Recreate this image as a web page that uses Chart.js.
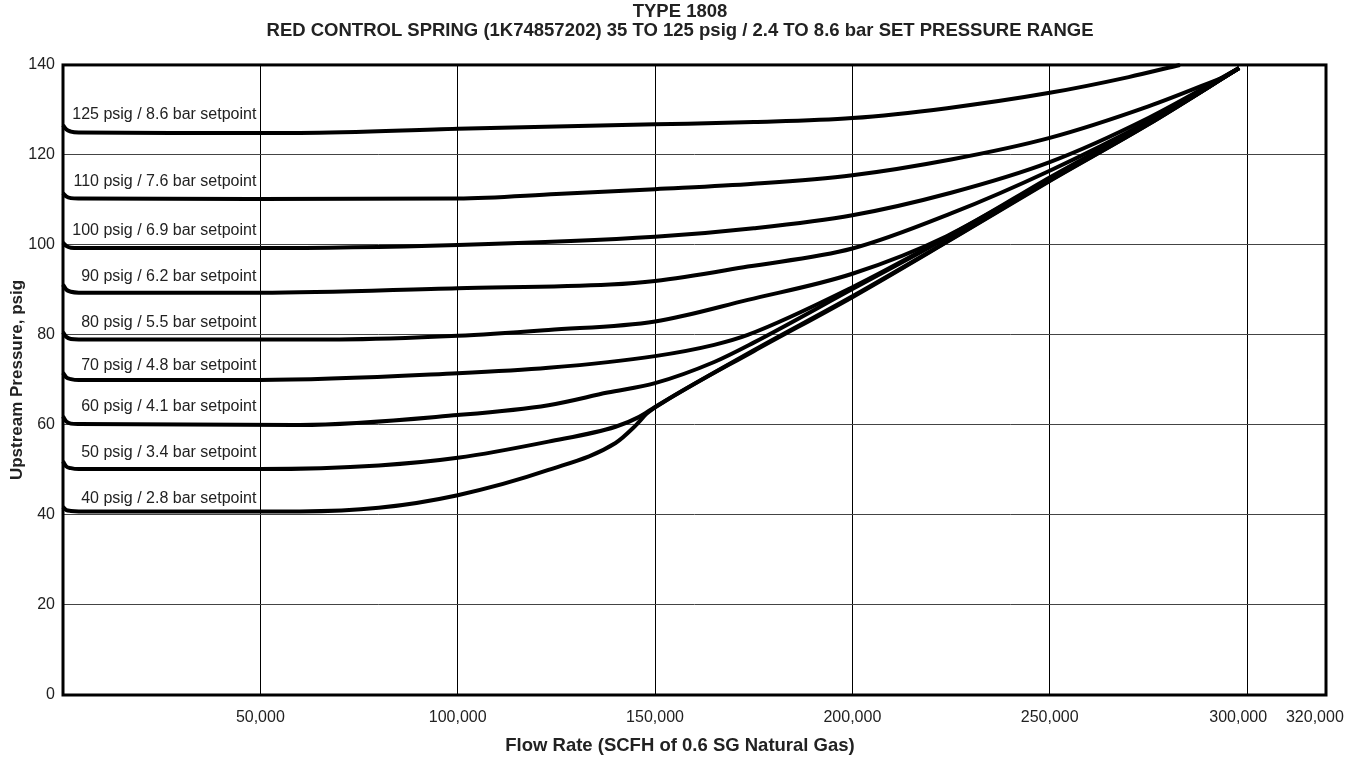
<!DOCTYPE html>
<html>
<head>
<meta charset="utf-8">
<script src="https://cdn.jsdelivr.net/npm/chart.js@4"></script>
<style>
  html, body { margin: 0; padding: 0; background: #fff; }
</style>
</head>
<body>
<canvas id="chart" width="1360" height="759"></canvas>
<script>
// flow (SCFH) vs upstream pressure (psig)
const curve125 = [[0,126.6],[800,125.7],[2000,125.2],[4000,125],[30000,124.9],[60000,124.9],[100000,125.8],[150000,126.8],[175000,127.3],[200000,128.2],[224000,130.4],[250000,133.8],[270000,137.3],[283000,140]];
const curve110 = [[0,111.5],[800,110.8],[2000,110.4],[4000,110.3],[50000,110.2],[100000,110.3],[125000,111.3],[150000,112.4],[175000,113.6],[200000,115.5],[225000,119],[250000,123.8],[275000,130.8],[295000,137.6]];
const curve100 = [[0,100.5],[800,99.8],[2000,99.4],[4000,99.3],[50000,99.3],[100000,100],[150000,101.8],[175000,103.7],[200000,106.6],[225000,111.6],[250000,118.4],[275000,128.2],[298000,139.3]];
const curve90  = [[0,91.2],[800,90.1],[2000,89.6],[4000,89.4],[50000,89.4],[100000,90.4],[138600,91.2],[150000,92],[173500,95.2],[200000,99.2],[225000,107],[250000,116.5],[275000,127.5],[298000,139.3]];
const curve80  = [[0,80.6],[800,79.6],[2000,79.1],[4000,79],[70000,79],[100000,79.8],[123000,81.1],[150000,83],[173500,87.8],[200000,93.6],[224000,102],[250000,115],[275000,127.3],[298000,139.3]];
const curve70  = [[0,71.6],[800,70.6],[2000,70.2],[4000,70],[50000,70],[100000,71.5],[123000,72.7],[150000,75.3],[165000,77.8],[173500,80],[200000,90.6],[224000,101.8],[250000,114.6],[275000,127],[298000,139.3]];
const curve60  = [[0,61.9],[800,60.8],[2000,60.3],[4000,60.2],[60000,60],[100000,62.2],[123000,64.4],[138000,67.2],[150000,69.3],[165000,74],[175000,78.3],[200000,90.2],[224000,101.6],[250000,114.5],[275000,127],[298000,139.3]];
const curve50  = [[0,51.9],[800,50.8],[2000,50.4],[4000,50.2],[50000,50.2],[80000,51],[100000,52.7],[123000,56.3],[140000,59.6],[146000,61.8],[150000,64],[175000,76.6],[200000,88.6],[225000,101.3],[250000,114.3],[275000,126.8],[298000,139.3]];
const curve40  = [[0,41.8],[800,41.1],[2000,40.9],[4000,40.8],[60000,40.8],[80000,41.6],[100000,44.4],[123000,50],[140000,56],[145000,59.8],[148000,62.6],[152000,65],[175000,76.4],[200000,88.4],[225000,101.2],[250000,114.2],[275000,126.8],[298000,139.3]];

const setpointLabels = [
    '125 psig / 8.6 bar setpoint',
    '110 psig / 7.6 bar setpoint',
    '100 psig / 6.9 bar setpoint',
    '90 psig / 6.2 bar setpoint',
    '80 psig / 5.5 bar setpoint',
    '70 psig / 4.8 bar setpoint',
    '60 psig / 4.1 bar setpoint',
    '50 psig / 3.4 bar setpoint',
    '40 psig / 2.8 bar setpoint'
];
const labelPsig = [128.9, 114.1, 103.3, 93, 82.7, 73.1, 64, 53.8, 43.7];
const labelFlowEnd = 49000;

const xTicks = [0, 50000, 100000, 150000, 200000, 250000, 300000, 320000];

const FONT = "'Liberation Sans', Arial, sans-serif";
const TEXT = '#222';

const curves = [curve125, curve110, curve100, curve90, curve80, curve70, curve60, curve50, curve40];

// black frame round the plot area
const frame_plugin = {
    id: 'frame',
    afterDatasetsDraw( chart ){
        const { ctx, chartArea: a } = chart;
        ctx.save();
        ctx.lineWidth   = 3;
        ctx.strokeStyle = '#000';
        ctx.strokeRect( a.left, a.top, a.right - a.left, a.bottom - a.top );
        ctx.restore();
    }
};

// setpoint captions, placed through the scales
const setpoint_text_plugin = {
    id: 'setpointText',
    afterDatasetsDraw( chart ){
        const { ctx, scales } = chart;
        ctx.save();
        ctx.font         = '16px ' + FONT;
        ctx.fillStyle    = TEXT;
        ctx.textAlign    = 'right';
        ctx.textBaseline = 'middle';
        setpointLabels.forEach( ( txt, i ) => {
            ctx.fillText( txt, scales.x.getPixelForValue( labelFlowEnd ), scales.y.getPixelForValue( labelPsig[i] ) );
        });
        ctx.restore();
    }
};

function x_tick_label( v ){
    if( v === 0 ) return '';
    let s = v.toLocaleString( 'en-US' );
    // last two labels sit a little left of their grid line in the original
    if( v === 300000 ) s += '    ';
    if( v === 320000 ) s += '     ';
    return s;
}

const config = {
    type: 'line',
    data: {
        datasets: curves.map( ( c, i ) => ({
            label: setpointLabels[i],
            data: c.map( p => ({ x: p[0], y: p[1] }) ),
            borderColor: '#000',
            borderWidth: 4,
            pointRadius: 0,
            fill: false,
            cubicInterpolationMode: 'monotone',
            clip: 3
        }))
    },
    options: {
        responsive: false,
        animation: false,
        layout: { padding: 0 },
        plugins: {
            legend: { display: false },
            tooltip: { enabled: false },
            title: {
                display: true,
                text: [ 'TYPE 1808', 'RED CONTROL SPRING (1K74857202) 35 TO 125 psig / 2.4 TO 8.6 bar SET PRESSURE RANGE' ],
                color: TEXT,
                font: { family: FONT, size: 18.5, weight: 'bold', lineHeight: 1.02 },
                padding: { top: 2.5, bottom: 24.7 }
            },
            subtitle: {
                display: true,
                position: 'bottom',
                text: 'Flow Rate (SCFH of 0.6 SG Natural Gas)',
                color: TEXT,
                font: { family: FONT, size: 18.5, weight: 'bold', lineHeight: 1.2 },
                padding: { top: 8.8, bottom: 2 }
            }
        },
        scales: {
            x: {
                type: 'linear',
                min: 0,
                max: 320000,
                afterBuildTicks: scale => { scale.ticks = xTicks.map( v => ({ value: v }) ); },
                afterFit: scale => {
                    scale.height       = 31;
                    scale.paddingLeft  = 0;
                    scale.paddingRight = 34;
                },
                ticks: {
                    padding: 13,
                    maxRotation: 0,
                    autoSkip: false,
                    color: TEXT,
                    font: { family: FONT, size: 16 },
                    callback: x_tick_label
                },
                grid: { color: '#000', lineWidth: 1, drawTicks: false },
                border: { display: false }
            },
            y: {
                min: 0,
                max: 140,
                afterFit: scale => { scale.width = 63; },
                ticks: {
                    stepSize: 20,
                    padding: 8,
                    color: TEXT,
                    font: { family: FONT, size: 16 }
                },
                title: {
                    display: true,
                    text: 'Upstream Pressure, psig',
                    color: TEXT,
                    font: { family: FONT, size: 17, weight: 'bold', lineHeight: 1.2 },
                    padding: { top: 6.8, bottom: 0 }
                },
                grid: { color: '#444', lineWidth: 1, drawTicks: false },
                border: { display: false }
            }
        }
    },
    plugins: [ frame_plugin, setpoint_text_plugin ]
};

const pressure_chart = new Chart( document.getElementById( 'chart' ), config );
</script>
</body>
</html>
